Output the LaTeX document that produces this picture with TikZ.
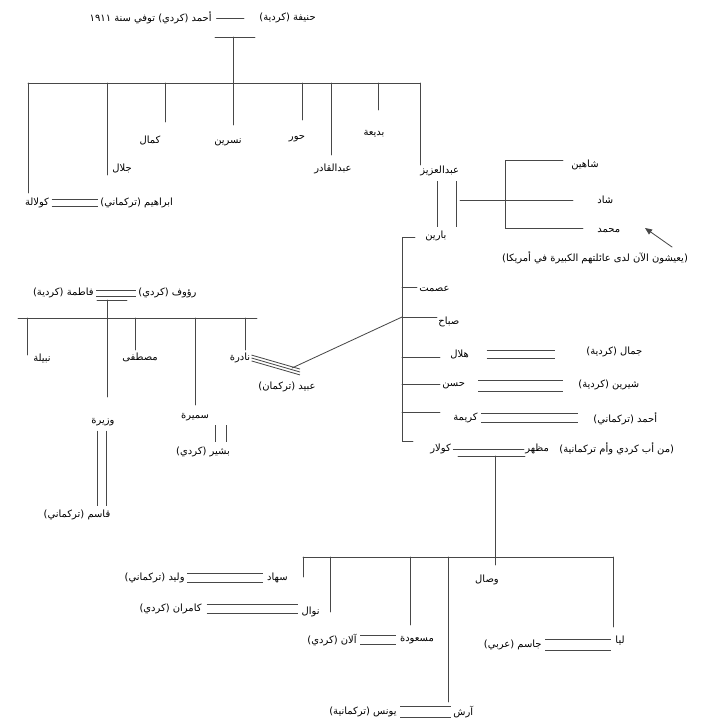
\documentclass[tikz,border=0pt]{standalone}
\usepackage{fontspec}
\newfontfamily\arabicfont[Script=Arabic]{DejaVu Sans}
\TeXXeTstate=1
\usetikzlibrary{arrows.meta}
\newcommand{\arname}[1]{\arabicfont\beginR #1\endR}
\tikzset{
 who/.style={font=\fontsize{8.5}{10}\selectfont,inner sep=1pt,text=black},
 kin/.style={draw=black!72,line width=0.7pt},
 wed/.style={kin,line cap=butt,transform canvas={yshift=#1}},
 vwed/.style={kin,line cap=butt,transform canvas={xshift=#1}}
}

\begin{document}
\begin{tikzpicture}[x=0.03cm,y=-0.03cm,line cap=round]
\useasboundingbox[fill=white] (0,0) rectangle (704,726);
% grandparents
\node[who,anchor=east] (ahmad) at (213,18) {\arname{أحمد (كردي) توفي سنة \beginL١٩١١\endL}};
\node[who,anchor=west] (hanifa) at (258,18) {\arname{حنيفة (كردية)}};
\draw[kin,shorten <=3pt,shorten >=12pt] (ahmad.east) -- (hanifa.west);
\draw[kin] (215,37) -- (255,37);
\draw[kin] (233,37) -- (233,83);
\draw[kin] (28,83) -- (420,83);
\foreach \xx/\yy in {28/193,107/175,165/122,233/125,302/120,331/155,378/110,420/165}
 \draw[kin] (\xx,83) -- (\xx,\yy);
\node[who] (kolala) at (37,203) {\arname{كولالة}};
\node[who,anchor=west] (ibrahim) at (99,203) {\arname{ابراهيم (تركماني)}};
\foreach \s in {3pt,-3pt}
 \draw[wed=\s,shorten <=1pt,shorten >=1pt] (kolala.east) -- (ibrahim.west);
\node[who] (jalal) at (122,168) {\arname{جلال}};
\node[who] (kamal) at (150,140) {\arname{كمال}};
\node[who] (nisrin) at (228,142) {\arname{نسرين}};
\node[who] (hur) at (297,139) {\arname{حور}};
\node[who] (abdulqadir) at (333,169) {\arname{عبدالقادر}};
\node[who] (badia) at (374,134) {\arname{بديعة}};
\node[who,anchor=west] (abdulaziz) at (419,171) {\arname{عبدالعزيز}};
% abdulaziz and barin
\node[who,anchor=west] (barin) at (424,236) {\arname{بارين}};
\foreach \s in {-8pt,8pt}
 \draw[vwed=\s] (abdulaziz.south -| 447,0) ++(0,4) -- ([yshift=2pt]barin.north -| 447,0);
\draw[kin] (460,200) -- (505,200);
\draw[kin] (563,160) -- (505,160) -- (505,228) -- (583,228);
\draw[kin] (505,200) -- (573,200);
\node[who,anchor=west] (shahin) at (570,165) {\arname{شاهين}};
\node[who,anchor=west] (shad) at (596,200) {\arname{شاد}};
\node[who,anchor=west] (muhammad) at (596,231) {\arname{محمد}};
\node[who] (abroad) at (595,258) {\arname{(يعيشون الآن لدى عائلتهم الكبيرة في أمريكا)}};
\coordinate (tail) at (672,247);
\draw[kin,-{Triangle[length=6pt,width=5pt]}] (tail) -- (645,228);
% siblings of barin
\draw[kin] (415,237) -- (402,237) -- (402,441) -- (413,441);
\node[who,anchor=west] (isamat) at (418,289) {\arname{عصمت}};
\draw[kin] (402,287) -- (417,287);
\node[who,anchor=west] (sabah) at (437,322) {\arname{صباح}};
\draw[kin] (402,317) -- (437,317);
\node[who,anchor=west] (hilal) at (449,354) {\arname{هلال}};
\draw[kin] (402,357) -- (440,357);
\node[who,anchor=west] (jamal) at (585,352) {\arname{جمال (كردية)}};
\foreach \s in {3.4pt,-3.4pt}
 \draw[wed=\s,shorten <=14pt,shorten >=26pt] (hilal.east) -- (hilal.east -| jamal.west);
\node[who,anchor=west] (hasan) at (441,386) {\arname{حسن}};
\draw[kin] (402,384) -- (440,384);
\node[who,anchor=west] (shirin) at (577,385) {\arname{شيرين (كردية)}};
\foreach \s in {4.5pt,-4.5pt}
 \draw[wed=\s,shorten <=10pt,shorten >=12pt] (hasan.east) -- (hasan.east -| shirin.west);
\node[who,anchor=west] (karima) at (452,418) {\arname{كريمة}};
\draw[kin] (402,412) -- (440,412);
\node[who,anchor=west] (ahmadt) at (592,419) {\arname{أحمد (تركماني)}};
\foreach \s in {4pt,-4pt}
 \draw[wed=\s,shorten <=2pt,shorten >=12pt] (karima.east) -- (karima.east -| ahmadt.west);
\node[who,anchor=west] (kolar) at (429,449) {\arname{كولار}};
\node[who,anchor=west] (mazhar) at (524,449) {\arname{مظهر}};
\node[who,anchor=west] (origin) at (558,449) {\arname{(من أب كردي وأم تركمانية)}};
\draw[kin,shorten <=1pt] (kolar.east) -- (mazhar.west);
\draw[kin] (458,456) -- (525,456);
\draw[kin] (495,456) -- (495,565);
% children of kolar and mazhar
\draw[kin] (303,557) -- (613,557);
\foreach \xx/\yy in {303/577,330/612,410/625,448/702,613/627}
 \draw[kin] (\xx,557) -- (\xx,\yy);
\node[who,anchor=east] (suhad) at (289,578) {\arname{سهاد}};
\node[who,anchor=east] (walid) at (186,578) {\arname{وليد (تركماني)}};
\foreach \s in {3.5pt,-3.5pt}
 \draw[wed=\s,shorten <=1pt,shorten >=2pt] (walid.east) -- (walid.east -| suhad.west);
\node[who,anchor=east] (nawal) at (321,612) {\arname{نوال}};
\node[who,anchor=east] (kamran) at (203,609) {\arname{كامران (كردي)}};
\foreach \s in {4pt,-4pt}
 \draw[wed=\s,shorten <=3pt,shorten >=2pt] (kamran.east) -- (kamran.east -| nawal.west);
\node[who] (masuda) at (417,640) {\arname{مسعودة}};
\node[who,anchor=east] (alan) at (358,640) {\arname{آلان (كردي)}};
\foreach \s in {3.5pt,-3.5pt}
 \draw[wed=\s,shorten <=2pt,shorten >=2pt] (alan.east) -- (alan.east -| masuda.west);
\node[who] (wisal) at (487,580) {\arname{وصال}};
\node[who,anchor=west] (arash) at (452,712) {\arname{آرش}};
\node[who,anchor=east] (yunus) at (398,712) {\arname{يونس (تركمانية)}};
\foreach \s in {4.5pt,-4.5pt}
 \draw[wed=\s,shorten <=2pt,shorten >=1pt] (yunus.east) -- (yunus.east -| arash.west);
\node[who] (liya) at (620,640) {\arname{ليا}};
\node[who,anchor=east] (jasim) at (543,645) {\arname{جاسم (عربي)}};
\foreach \s in {5pt,-5pt}
 \draw[wed=\s,shorten <=2pt,shorten >=3pt] (jasim.east) -- (jasim.east -| liya.west);
% rauf and fatima
\node[who,anchor=east] (fatima) at (95,293) {\arname{فاطمة (كردية)}};
\node[who,anchor=west] (rauf) at (137,293) {\arname{رؤوف (كردي)}};
\foreach \s in {2.5pt,-2.5pt}
 \draw[wed=\s,shorten <=1pt,shorten >=1pt] (fatima.east) -- (rauf.west);
\draw[kin] (97,300) -- (127,300);
\draw[kin] (107,300) -- (107,397);
\draw[kin] (18,318) -- (257,318);
\foreach \xx/\yy in {27/355,135/350,195/405,245/350}
 \draw[kin] (\xx,318) -- (\xx,\yy);
\node[who] (nabila) at (42,358) {\arname{نبيلة}};
\node[who] (mustafa) at (140,357) {\arname{مصطفى}};
\node[who] (wazira) at (103,422) {\arname{وزيرة}};
\node[who] (qasim) at (77,515) {\arname{قاسم (تركماني)}};
\foreach \s in {-4pt,4pt}
 \draw[vwed=\s] ([yshift=-3pt]wazira.south -| 102,0) -- ([yshift=2pt]qasim.north -| 102,0);
\node[who] (samira) at (195,417) {\arname{سميرة}};
\node[who] (bashir) at (203,452) {\arname{بشير (كردي)}};
\foreach \s in {-5pt,5pt}
 \draw[vwed=\s] (221,425) -- (221,442);
\node[who] (nadira) at (240,358) {\arname{نادرة}};
\node[who] (ubaid) at (287,387) {\arname{عبيد (تركمان)}};
\coordinate (knot) at (292,368);
\foreach \s in {-2.5pt,0pt,2.5pt}
 \draw[wed=\s] (nadira.east) -- (300,372);
\draw[kin] (knot) -- (402,317);
\end{tikzpicture}
\end{document}
